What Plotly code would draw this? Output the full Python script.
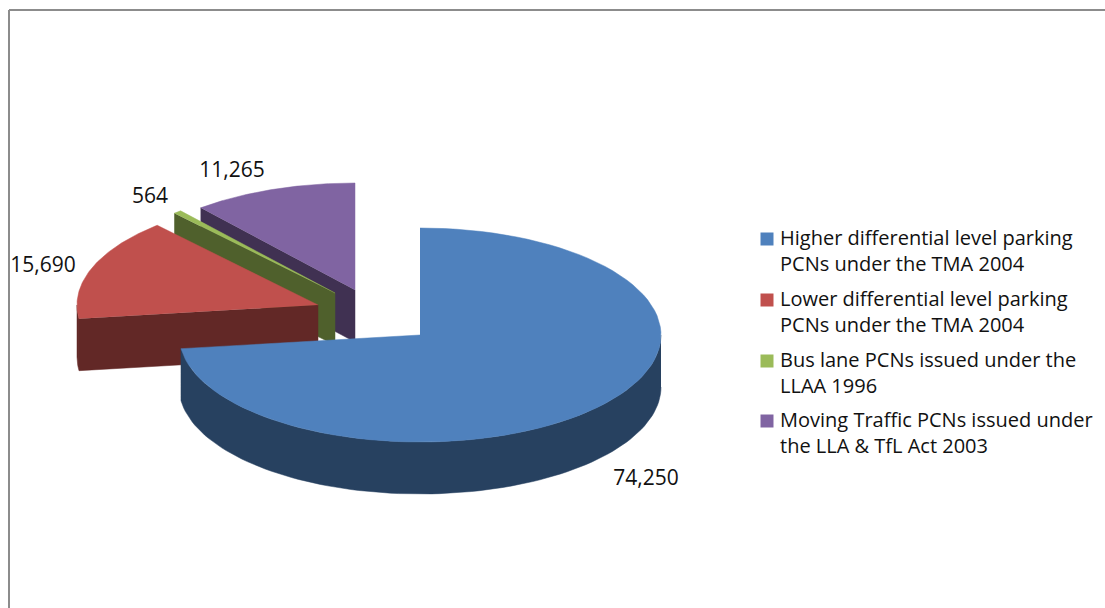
import numpy as np
import plotly.graph_objects as go

# values
categories = [
    "Higher differential level parking<br>PCNs under the TMA 2004",
    "Lower differential level parking<br>PCNs under the TMA 2004",
    "Bus lane PCNs issued under the<br>LLAA 1996",
    "Moving Traffic PCNs issued under<br>the LLA & TfL Act 2003",
]
values = [74250, 15690, 564, 11265]
value_labels = ["74,250", "15,690", "564", "11,265"]
top_colors = ["#4F81BD", "#C0504D", "#9BBB59", "#8064A2"]
side_colors = ["#274160", "#622826", "#4F602C", "#403152"]

# pie look, in page pixels (y axis runs downward)
centers = [(420, 335), (318, 305), (335, 293), (355, 290)]
label_pos = [(646, 480), (43, 267), (150, 198), (232, 172)]
key_y = [239, 300, 361, 421]
RX, RY, DEPTH = 241, 107, 52
FONT = "Open Sans"
LABEL_SIZE = 21
KEY_SIZE = 20
PAGE_W, PAGE_H = 1105, 608


def rim(c, a0, a1, n=90):
    # points on the ellipse, angles clockwise from 12 o'clock
    t = np.radians(np.linspace(a0, a1, n))
    return c[0] + RX * np.sin(t), c[1] - RY * np.cos(t)


def add_poly(fig, x, y, color):
    fig.add_trace(go.Scatter(
        x=list(x), y=list(y), mode="lines", fill="toself", fillcolor=color,
        line=dict(color=color, width=0.5), hoverinfo="skip", showlegend=False,
    ))


shares = np.array(values) / sum(values) * 360
ends = np.cumsum(shares)
starts = ends - shares

fig = go.Figure()

# draw from back to front: purple, green, red, blue
for i in [3, 2, 1, 0]:
    c = centers[i]
    a0, a1 = starts[i], ends[i]
    xr, yr = rim(c, a0, a1)

    # cut face on the leading edge of the wedges on the left
    if i != 0:
        add_poly(fig,
                 [xr[0], c[0], c[0], xr[0]],
                 [yr[0], c[1], c[1] + DEPTH, yr[0] + DEPTH],
                 side_colors[i])

    # outer wall, only the part facing the viewer (90..270 degrees)
    w0, w1 = max(a0, 90), min(a1, 270)
    if w1 > w0:
        xw, yw = rim(c, w0, w1)
        add_poly(fig,
                 np.concatenate([xw, xw[::-1]]),
                 np.concatenate([yw, yw[::-1] + DEPTH]),
                 side_colors[i])

    # top
    add_poly(fig, np.append(xr, c[0]), np.append(yr, c[1]), top_colors[i])

# key squares, the text sits next to them as annotations so the square
# lines up with the first text line like in the original
fig.add_trace(go.Scatter(
    x=[767] * len(key_y), y=key_y, mode="markers",
    marker=dict(symbol="square", size=13, color=top_colors),
    hoverinfo="skip", showlegend=False,
))
for name, y in zip(categories, key_y):
    fig.add_annotation(
        x=780, y=y - 15, text=name, showarrow=False, xanchor="left", yanchor="top",
        align="left", borderpad=0, borderwidth=0,
        font=dict(family=FONT, size=KEY_SIZE, color="#111111"),
    )

fig.add_trace(go.Scatter(
    x=[p[0] for p in label_pos], y=[p[1] for p in label_pos],
    mode="text", text=value_labels, textposition="middle center",
    textfont=dict(family=FONT, size=LABEL_SIZE, color="#111111"),
    hoverinfo="skip", showlegend=False,
))

# frame of the chart area, only top and left are in view
fig.add_shape(type="line", x0=9, x1=PAGE_W, y0=10, y1=10, line=dict(color="#8C8C8C", width=2))
fig.add_shape(type="line", x0=9, x1=9, y0=10, y1=PAGE_H, line=dict(color="#8C8C8C", width=2))

fig.update_layout(
    width=PAGE_W, height=PAGE_H,
    margin=dict(l=0, r=0, t=0, b=0),
    paper_bgcolor="white", plot_bgcolor="white",
    xaxis=dict(range=[0, PAGE_W], visible=False, fixedrange=True),
    yaxis=dict(range=[PAGE_H, 0], visible=False, fixedrange=True),
    showlegend=False,
)

# page margin off so the plot fills the window
fig.write_html("out.html", config={"displayModeBar": False},
               post_script="document.body.style.margin = '0';")
